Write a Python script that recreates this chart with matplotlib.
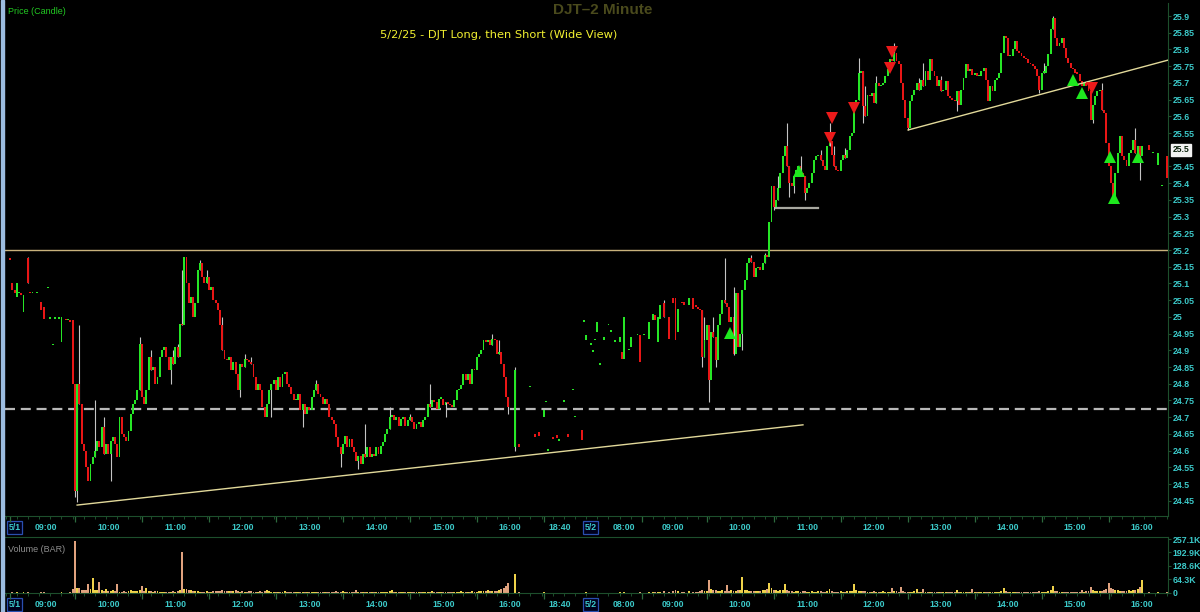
import numpy as np
import matplotlib
matplotlib.use("Agg")
import matplotlib.pyplot as plt
from matplotlib.transforms import blended_transform_factory
from matplotlib.patches import Rectangle

# ---------------- data ----------------
# 5/1 pre-market (sparse bars)
pre1_idx = [2, 3, 4, 5, 6, 7, 8, 10, 11, 12, 14, 16, 17, 19, 20, 21, 22, 24, 25, 27, 28, 29]
pre1_open = [25.175, 25.10, 25.08, 25.06, 25.07, 25.07, 25.015, 25.175, 25.075, 25.07, 25.07,
             25.045, 25.03, 25.085, 24.995, 24.915, 24.995, 24.995, 24.925, 24.995, 24.99, 24.99]
pre1_close = [25.17, 25.08, 25.07, 25.10, 25.07, 25.065, 25.065, 25.10, 25.07, 25.07, 25.07,
              25.02, 24.995, 25.085, 24.995, 24.92, 24.995, 24.995, 25.00, 24.99, 24.99, 24.985]
pre1_vol = [2, 3, 2, 3, 1, 2, 3, 4, 1, 2, 1, 3, 3, 1, 2, 2, 1, 1, 3, 2, 2, 3]
pre1_high = {10: 25.18}
pre1_low = {}

# 5/1 regular session (bar 30 .. 225), open of each bar = previous close
day1_start = 30
day1_first_open = 24.99
day1_close = [
    24.80, 24.48, 24.80, 24.74, 24.62, 24.60, 24.55, 24.51, 24.56, 24.58,
    24.60, 24.63, 24.61, 24.67, 24.59, 24.62, 24.59, 24.63, 24.64, 24.62,
    24.58, 24.70, 24.65, 24.64, 24.63, 24.66, 24.71, 24.74, 24.75, 24.78,
    24.92, 24.76, 24.74, 24.78, 24.88, 24.84, 24.85, 24.80, 24.82, 24.88,
    24.90, 24.91, 24.88, 24.84, 24.88, 24.86, 24.91, 24.88, 24.98, 24.975,
    25.18, 25.10, 25.04, 25.06, 25.00, 25.04, 25.14, 25.16, 25.12, 25.10,
    25.12, 25.08, 25.09, 25.05, 25.04, 25.02, 24.975, 24.90, 24.875, 24.87,
    24.88, 24.84, 24.865, 24.83, 24.78, 24.86, 24.85, 24.875, 24.87, 24.865,
    24.86, 24.82, 24.78, 24.80, 24.78, 24.73, 24.70, 24.74, 24.78, 24.80,
    24.81, 24.78, 24.82, 24.79, 24.83, 24.835, 24.80, 24.79, 24.77, 24.75,
    24.75, 24.77, 24.72, 24.74, 24.71, 24.73, 24.72, 24.76, 24.78, 24.80,
    24.77, 24.76, 24.74, 24.755, 24.74, 24.70, 24.69, 24.68, 24.64, 24.61,
    24.59, 24.62, 24.645, 24.61, 24.635, 24.61, 24.595, 24.57, 24.585, 24.56,
    24.59, 24.58, 24.61, 24.58, 24.59, 24.585, 24.61, 24.59, 24.615, 24.625,
    24.65, 24.665, 24.70, 24.705, 24.69, 24.70, 24.675, 24.695, 24.70, 24.675,
    24.69, 24.70, 24.685, 24.665, 24.68, 24.685, 24.67, 24.69, 24.70, 24.74,
    24.73, 24.75, 24.745, 24.725, 24.755, 24.755, 24.735, 24.745, 24.74, 24.735,
    24.73, 24.75, 24.78, 24.785, 24.795, 24.83, 24.81, 24.83, 24.80, 24.845,
    24.84, 24.88, 24.89, 24.90, 24.93, 24.925, 24.93, 24.915, 24.935, 24.93,
    24.89, 24.895, 24.86, 24.82, 24.76, 24.73]
day1_vol = [
    20, 247, 25, 25, 14, 14, 12, 44, 18, 71,
    14, 14, 52, 14, 10, 19, 10, 10, 12, 10,
    41, 7, 7, 8, 7, 10, 12, 10, 11, 9,
    12, 33, 9, 24, 10, 8, 7, 8, 8, 6,
    5, 6, 5, 6, 6, 8, 7, 9, 12, 195,
    20, 18, 15, 12, 10, 8, 9, 7, 6, 7,
    8, 6, 7, 8, 9, 10, 8, 12, 10, 9,
    8, 8, 9, 12, 8, 7, 8, 6, 7, 8,
    9, 7, 6, 5, 8, 7, 9, 13, 8, 6,
    7, 5, 6, 5, 6, 8, 6, 4, 5, 6,
    4, 5, 4, 3, 4, 6, 5, 4, 3, 5,
    4, 3, 5, 4, 6, 3, 4, 5, 8, 6,
    7, 9, 6, 7, 5, 6, 4, 12, 6, 5,
    4, 3, 4, 5, 4, 6, 5, 4, 5, 4,
    6, 7, 8, 16, 6, 5, 7, 5, 4, 5,
    6, 4, 5, 4, 6, 5, 4, 5, 6, 5,
    4, 9, 7, 6, 5, 4, 6, 5, 4, 5,
    6, 5, 4, 5, 8, 6, 5, 7, 6, 8,
    6, 7, 9, 8, 10, 9, 12, 10, 9, 11,
    10, 13, 21, 25, 32, 48]
day1_high = {33: 24.975, 40: 24.75, 44: 24.70, 60: 24.94, 65: 24.90, 75: 24.90, 77: 24.92,
             79: 25.14, 87: 25.17, 90: 25.14, 97: 25.00, 107: 24.89, 110: 24.88, 139: 24.81,
             161: 24.68, 172: 24.73, 181: 24.71, 190: 24.80, 218: 24.95, 221: 24.93}
day1_low = {31: 24.46, 32: 24.445, 47: 24.51, 74: 24.80, 105: 24.76, 119: 24.70, 133: 24.67,
            150: 24.55, 158: 24.545, 197: 24.70, 225: 24.71}

# 5/1 after-hours and 5/2 pre-market (sparse bars)
ah_idx = [228, 230, 235, 237, 239, 241, 242, 243, 245, 247, 248, 250, 252, 254, 255, 258, 259,
          260, 262, 263, 264, 265, 266, 268, 270, 271, 273, 275, 276, 277, 279, 280, 283, 284,
          286, 288, 290, 291, 292, 293, 295, 297, 299, 300, 301, 303, 304, 306, 308, 309, 310, 311]
ah_open = [24.61, 24.62, 24.79, 24.65, 24.655, 24.70, 24.745, 24.60, 24.64, 24.647, 24.63,
           24.746, 24.65, 24.78, 24.70, 24.662, 24.985, 24.93, 24.916, 24.895, 24.93, 24.955,
           24.856, 24.93, 24.975, 24.955, 24.925, 24.925, 24.895, 24.875, 24.90, 24.91, 24.945,
           24.945, 24.945, 24.935, 24.99, 25.005, 24.925, 24.995, 25.04, 25.00, 25.055, 25.055,
           24.955, 25.045, 25.045, 25.035, 25.055, 25.035, 25.03, 25.025]
ah_close = [24.84, 24.61, 24.79, 24.64, 24.645, 24.72, 24.745, 24.60, 24.635, 24.637, 24.63,
            24.746, 24.64, 24.78, 24.70, 24.632, 24.985, 24.945, 24.916, 24.895, 24.93, 24.985,
            24.856, 24.94, 24.975, 24.955, 24.925, 24.94, 24.875, 25.00, 24.90, 24.94, 24.945,
            24.865, 24.945, 24.985, 25.01, 24.99, 25.00, 25.035, 25.00, 24.935, 25.04, 24.93,
            25.025, 25.04, 25.035, 25.055, 25.025, 25.03, 25.025, 25.02]
ah_vol = [92, 4, 1, 2, 2, 3, 1, 1, 2, 2, 1, 1, 2, 1, 1, 2, 1, 3, 1, 1, 1, 2, 1, 2, 1, 1,
          1, 3, 2, 5, 1, 2, 1, 5, 1, 3, 4, 3, 4, 6, 8, 6, 10, 14, 8, 6, 5, 9, 7, 6, 6, 8]
ah_high = {228: 24.85, 295: 25.05}
ah_low = {228: 24.60}

# 5/2 regular session (bar 312 .. 508)
day2_start = 312
day2_first_open = 25.02
day2_close = [
    24.88, 24.93, 24.975, 24.81, 24.955, 24.94, 24.87, 24.975,
    25.01, 25.05, 25.04, 25.03, 24.985, 25.00, 24.89, 25.07, 24.91, 24.95,
    25.08, 25.11, 25.16, 25.175, 25.165, 25.12, 25.145, 25.15, 25.14, 25.16,
    25.185, 25.18, 25.285, 25.39, 25.33, 25.35, 25.385, 25.43, 25.48, 25.51,
    25.45, 25.40, 25.39, 25.42, 25.44, 25.45, 25.43, 25.42, 25.37, 25.385,
    25.40, 25.43, 25.47, 25.48, 25.485, 25.47, 25.45, 25.44, 25.51, 25.525,
    25.485, 25.45, 25.44, 25.435, 25.47, 25.485, 25.475, 25.50, 25.54, 25.55,
    25.63, 25.65, 25.73, 25.735, 25.63, 25.60, 25.665, 25.66, 25.67, 25.64,
    25.70, 25.69, 25.695, 25.70, 25.72, 25.74, 25.77, 25.765, 25.79, 25.765,
    25.755, 25.70, 25.65, 25.595, 25.565, 25.645, 25.665, 25.68, 25.70, 25.68,
    25.71, 25.69, 25.735, 25.71, 25.77, 25.735, 25.72, 25.69, 25.71, 25.675,
    25.68, 25.705, 25.66, 25.655, 25.65, 25.645, 25.675, 25.635, 25.68, 25.715,
    25.755, 25.735, 25.74, 25.725, 25.73, 25.72, 25.72, 25.735, 25.745, 25.71,
    25.645, 25.69, 25.675, 25.71, 25.715, 25.73, 25.79, 25.84, 25.835, 25.78,
    25.78, 25.80, 25.825, 25.795, 25.79, 25.78, 25.775, 25.77, 25.76, 25.755,
    25.75, 25.74, 25.72, 25.68, 25.73, 25.73, 25.75, 25.785, 25.86, 25.895,
    25.835, 25.81, 25.82, 25.835, 25.805, 25.775, 25.76, 25.745, 25.74, 25.73,
    25.728, 25.705, 25.69, 25.70, 25.69, 25.675, 25.59, 25.635, 25.66, 25.675,
    25.68, 25.62, 25.61, 25.52, 25.45, 25.40, 25.35, 25.43, 25.49, 25.54,
    25.48, 25.47, 25.45, 25.49, 25.50, 25.53, 25.49, 25.51, 25.48]
day2_vol = [
    12, 10, 9, 60, 18, 14, 12, 10,
    8, 12, 10, 37, 10, 12, 9, 10, 12, 14,
    76, 14, 12, 10, 9, 8, 8, 10, 9, 12,
    15, 20, 48, 22, 14, 12, 10, 12, 15, 41,
    12, 10, 8, 7, 8, 9, 7, 8, 9, 6,
    7, 8, 6, 7, 9, 8, 7, 6, 8, 18,
    8, 6, 7, 5, 8, 6, 7, 8, 9, 10,
    41, 12, 10, 8, 9, 8, 7, 6, 5, 8,
    6, 7, 5, 8, 6, 7, 6, 25, 9, 8,
    7, 27, 8, 6, 7, 5, 6, 8, 21, 6,
    7, 21, 6, 5, 7, 6, 5, 4, 6, 5,
    4, 5, 6, 4, 5, 7, 14, 5, 4, 5,
    6, 4, 5, 21, 5, 4, 6, 5, 4, 6,
    5, 7, 6, 5, 4, 6, 8, 25, 9, 7,
    6, 5, 7, 6, 5, 4, 6, 5, 4, 5,
    6, 5, 7, 8, 6, 5, 7, 9, 12, 32,
    10, 8, 7, 6, 5, 6, 5, 4, 6, 5,
    7, 6, 14, 6, 8, 9, 28, 12, 10, 8,
    9, 10, 12, 20, 48, 22, 18, 15, 12, 10,
    11, 10, 9, 12, 10, 14, 12, 18, 30]
day2_high = {313: 25.00, 317: 25.00, 322: 25.175, 326: 25.09, 334: 25.185, 340: 25.19,
             346: 25.42, 350: 25.58, 356: 25.48, 365: 25.50, 369: 25.58, 371: 25.51,
             376: 25.505, 382: 25.775, 385: 25.69, 390: 25.72, 398: 25.82, 409: 25.715,
             411: 25.76, 419: 25.72, 465: 25.76, 469: 25.90, 491: 25.70, 506: 25.565}
day2_low = {312: 24.85, 315: 24.745, 318: 24.85, 326: 24.885, 330: 24.90, 344: 25.32,
            351: 25.36, 353: 25.37, 358: 25.35, 384: 25.58, 404: 25.558, 426: 25.615,
            463: 25.67, 487: 25.58, 496: 25.34, 508: 25.41}

# 5/2 after-hours (sparse bars)
ah2_idx = [509, 512, 514, 516, 518, 520]
ah2_open = [25.48, 25.515, 25.49, 25.455, 25.39, 25.48]
ah2_close = [25.51, 25.50, 25.49, 25.49, 25.39, 25.415]
ah2_vol = [63, 4, 2, 3, 1, 3]

# drawn annotations
level_solid = 25.20
level_dashed = 24.724
trend1_x = [32.0, 357.1]
trend1_y = [24.437, 24.677]
trend2_x = [404.2, 520.6]
trend2_y = [25.559, 25.768]
stop_x = [345.0, 363.9]
stop_y = [25.326, 25.326]
buy_idx = [324.4, 355.4, 478.0, 482.1, 494.6, 496.4, 507.2]
buy_price = [24.952, 25.436, 25.709, 25.670, 25.478, 25.355, 25.478]
sell_idx = [369.2, 370.1, 380.0, 396.1, 397.0, 486.6]
sell_price = [25.535, 25.595, 25.625, 25.744, 25.792, 25.685]
last_price = 25.5

time_label_pos = [4, 18, 46, 76, 106, 136, 166, 196, 226, 248, 262, 277, 299, 329,
                  359, 389, 419, 449, 479, 509]
time_labels = ["5/1", "09:00", "10:00", "11:00", "12:00", "13:00", "14:00", "15:00",
               "16:00", "18:40", "5/2", "08:00", "09:00", "10:00", "11:00", "12:00",
               "13:00", "14:00", "15:00", "16:00"]
halfhour_marks = [2, 31, 61, 91, 121, 151, 181, 211, 241, 285, 314, 344, 374, 404,
                  434, 464, 494]
price_ticks = [25.9, 25.85, 25.8, 25.75, 25.7, 25.65, 25.6, 25.55, 25.45, 25.4, 25.35,
               25.3, 25.25, 25.2, 25.15, 25.1, 25.05, 25.0, 24.95, 24.9, 24.85, 24.8,
               24.75, 24.7, 24.65, 24.6, 24.55, 24.5, 24.45]
price_tick_labels = ["25.9", "25.85", "25.8", "25.75", "25.7", "25.65", "25.6", "25.55",
                     "25.45", "25.4", "25.35", "25.3", "25.25", "25.2", "25.15", "25.1",
                     "25.05", "25", "24.95", "24.9", "24.85", "24.8", "24.75", "24.7",
                     "24.65", "24.6", "24.55", "24.5", "24.45"]
vol_ticks = [0, 64.3, 128.6, 192.9, 257.1]
vol_tick_labels = ["0", "64.3K", "128.6K", "192.9K", "257.1K"]

# ---------------- assemble bars ----------------
def seg_regular(start, first_open, closes, vols):
    n = min(len(closes), len(vols))
    c = np.array(closes[:n], float)
    o = np.r_[first_open, c[:-1]]
    return np.arange(start, start + n), o, c, np.array(vols[:n], float)

def seg_sparse(idx, o, c, v):
    n = min(len(idx), len(o), len(c), len(v))
    return (np.array(idx[:n]), np.array(o[:n], float), np.array(c[:n], float),
            np.array(v[:n], float))

segs = [seg_sparse(pre1_idx, pre1_open, pre1_close, pre1_vol),
        seg_regular(day1_start, day1_first_open, day1_close, day1_vol),
        seg_sparse(ah_idx, ah_open, ah_close, ah_vol),
        seg_regular(day2_start, day2_first_open, day2_close, day2_vol),
        seg_sparse(ah2_idx, ah2_open, ah2_close, ah2_vol)]
X = np.concatenate([s[0] for s in segs])
O = np.concatenate([s[1] for s in segs])
C = np.concatenate([s[2] for s in segs])
V = np.concatenate([s[3] for s in segs])
HI = np.maximum(O, C)
LO = np.minimum(O, C)
pos = {int(x): k for k, x in enumerate(X)}
for d in (pre1_high, day1_high, ah_high, day2_high):
    for k, h in d.items():
        if k in pos:
            HI[pos[k]] = max(HI[pos[k]], h)
for d in (pre1_low, day1_low, ah_low, day2_low):
    for k, l in d.items():
        if k in pos:
            LO[pos[k]] = min(LO[pos[k]], l)

# ---------------- figure ----------------
W, H = 1200, 612
BG = "black"
GREEN = "#26e626"
RED = "#e81616"
CYAN = "#3ccaca"
AXC = "#1d4f2c"
TICKFONT = ["Liberation Sans", "DejaVu Sans"]
TICKSIZE = 6.3

fig = plt.figure(figsize=(W / 100, H / 100), dpi=100, facecolor=BG)
fig.patches.append(Rectangle((1 / W, 0), 3 / W, 1, transform=fig.transFigure,
                             color="#9cbce0", zorder=5))

ax = fig.add_axes([5 / W, 1 - 516 / H, (1168 - 5) / W, (516 - 3) / H], facecolor=BG)
axv = fig.add_axes([5 / W, 1 - 593 / H, (1168 - 5) / W, (593 - 537) / H], facecolor=BG)

XMIN, XMAX = -0.3, 520.6
ax.set_xlim(XMIN, XMAX)
axv.set_xlim(XMIN, XMAX)
ax.set_ylim(24.4043, 25.9389)
axv.set_ylim(0, 266.7)

up = C >= O
# wicks
wick = (HI > np.maximum(O, C) + 1e-9) | (LO < np.minimum(O, C) - 1e-9)
ax.vlines(X[wick], LO[wick], HI[wick], color="#c4c4c4", lw=0.8, zorder=2)
# bodies
ax.bar(X, np.maximum(np.abs(C - O), 0.0045), bottom=np.minimum(O, C), width=0.86,
       color=np.where(up, GREEN, RED), linewidth=0, zorder=3)

# volume
axv.bar(X, V, width=0.86, color=np.where(up, "#efd24a", "#e0a27e"), linewidth=0)

# levels and drawings
ax.axhline(level_solid, color="#c9b27c", lw=1.0, zorder=1)
ax.axhline(level_dashed, color="#b8b8b8", lw=1.6, dashes=(4.5, 2.6), zorder=1)
ax.plot(trend1_x, trend1_y, color="#e2d99a", lw=1.0, zorder=4)
ax.plot(trend2_x, trend2_y, color="#e2d99a", lw=1.0, zorder=4)
ax.plot(stop_x, stop_y, color="#a8a8a0", lw=1.6, zorder=4)
ax.plot(buy_idx, buy_price, ls="none", marker="^", ms=9, mew=0, color="#1ee81e", zorder=6)
ax.plot(sell_idx, sell_price, ls="none", marker="v", ms=9, mew=0, color="#ec1a1a", zorder=6)

# axes styling
for a in (ax, axv):
    for s in a.spines.values():
        s.set_visible(False)
    a.spines["right"].set_visible(True)
    a.spines["right"].set_color(AXC)
    a.spines["bottom"].set_visible(True)
    a.spines["bottom"].set_color(AXC)
    a.yaxis.tick_right()
    a.tick_params(axis="y", colors=AXC, labelcolor=CYAN, length=2.5, width=0.8,
                  pad=1.0, labelsize=TICKSIZE)
    a.set_xticks(time_label_pos)
    a.set_xticklabels(time_labels)
    a.tick_params(axis="x", length=0, pad=5, labelcolor=CYAN, labelsize=TICKSIZE)
    for t in a.get_xticklabels():
        if "/" in t.get_text():
            t.set_bbox(dict(boxstyle="square,pad=0.2", fc="#00001c", ec="#2a4fb0", lw=0.9))
axv.spines["top"].set_visible(True)
axv.spines["top"].set_color(AXC)

ax.set_yticks(price_ticks)
ax.set_yticklabels(price_tick_labels)
axv.set_yticks(vol_ticks)
axv.set_yticklabels(vol_tick_labels)
for a in (ax, axv):
    for t in a.get_xticklabels() + a.get_yticklabels():
        t.set_fontfamily(TICKFONT)
        t.set_fontweight("bold")

# small tick marks in the time strips
for a, small, big in ((ax, 3 / 513, 6 / 513), (axv, 3 / 56, 6 / 56)):
    tr = blended_transform_factory(a.transData, a.transAxes)
    a.vlines(np.arange(0, 521, 5), -small, 0, transform=tr, color=AXC, lw=0.7,
             clip_on=False)
    a.vlines(halfhour_marks, -big, 0, transform=tr, color="#2d6a3e", lw=0.9,
             clip_on=False)

# last price tag
trp = blended_transform_factory(ax.transAxes, ax.transData)
ax.text(1.004, last_price, "25.5", transform=trp, va="center", ha="left", fontsize=6.2,
        color="#0a200a", fontweight="bold", family=TICKFONT,
        bbox=dict(boxstyle="square,pad=0.15", fc="#f2f2f2", ec="#f2f2f2"), zorder=7)

# texts
fig.text(8 / W, 1 - 11 / H, "Price (Candle)", color="#22c822", fontsize=6.5,
         family=["Liberation Sans", "DejaVu Sans"], va="center", ha="left")
fig.text(603 / W, 1 - 10 / H, "DJT\u20132 Minute", color="#4a4a1c", fontsize=11,
         fontweight="bold", family=["Liberation Sans", "DejaVu Sans"],
         va="center", ha="center")
fig.text(380 / W, 1 - 35 / H, "5/2/25 - DJT Long, then Short (Wide View)",
         color="#f2f030", fontsize=8.2, family=["DejaVu Sans"], va="center", ha="left")
fig.text(8 / W, 1 - 549 / H, "Volume (BAR)", color="#8e8e8e", fontsize=6.5,
         family=["Liberation Sans", "DejaVu Sans"], va="center", ha="left")

fig.savefig("out.png", dpi=100, facecolor=BG)
